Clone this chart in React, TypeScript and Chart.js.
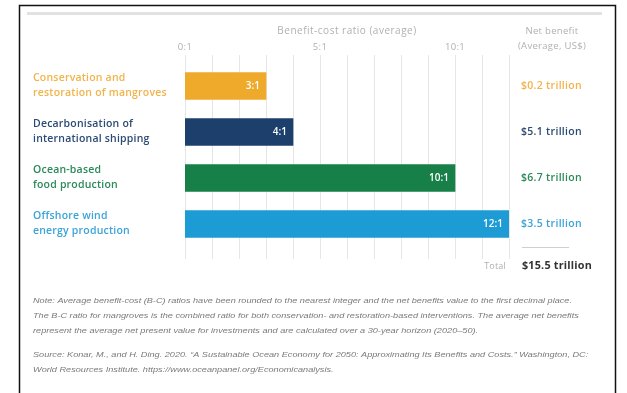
import React, { useEffect, useRef } from "react";
import { Chart, registerables } from "chart.js";

Chart.register(...registerables);

const categories: string[][] = [
  ["Conservation and", "restoration of mangroves"],
  ["Decarbonisation of", "international shipping"],
  ["Ocean-based", "food production"],
  ["Offshore wind", "energy production"],
];
const ratios = [3, 4, 10, 12];
const ratioLabels = ["3:1", "4:1", "10:1", "12:1"];
const netBenefits = ["$0.2 trillion", "$5.1 trillion", "$6.7 trillion", "$3.5 trillion"];
const totalText = "Total";
const totalValue = "$15.5 trillion";
const xTickValues = [0, 5, 10];
const xTickLabels = ["0:1", "5:1", "10:1"];
const axisTitle = "Benefit-cost ratio (average)";
const netHeader = ["Net benefit", "(Average, US$)"];
const barColors = ["#EFAA2C", "#1C3F6B", "#168048", "#1C9BD5"];
const textColors = ["#F1B44A", "#2B4A74", "#2A8A58", "#3AA3D8"];
const notes = [
  "Note: Average benefit-cost (B-C) ratios have been rounded to the nearest integer and the net benefits value to the first decimal place.",
  "The B-C ratio for mangroves is the combined ratio for both conservation- and restoration-based interventions. The average net benefits",
  "represent the average net present value for investments and are calculated over a 30-year horizon (2020\u201350).",
];
const sources = [
  "Source: Konar, M., and H. Ding. 2020. \u201cA Sustainable Ocean Economy for 2050: Approximating Its Benefits and Costs.\u201d Washington, DC:",
  "World Resources Institute. https://www.oceanpanel.org/Economicanalysis.",
];

const FONT = "'Open Sans', 'Noto Sans', sans-serif";

const decor = {
  id: "decor",
  beforeDatasetsDraw(chart: any) {
    const { ctx } = chart;
    const xs = chart.scales.x;
    ctx.save();
    ctx.strokeStyle = "#111";
    ctx.lineWidth = 1.5;
    ctx.beginPath();
    ctx.moveTo(19.5, 400);
    ctx.lineTo(19.5, 5.5);
    ctx.lineTo(615.5, 5.5);
    ctx.lineTo(615.5, 400);
    ctx.stroke();
    ctx.strokeStyle = "#e2e2e2";
    ctx.lineWidth = 3;
    ctx.beginPath();
    ctx.moveTo(27, 13.5);
    ctx.lineTo(602, 13.5);
    ctx.stroke();
    ctx.strokeStyle = "#e6e6e6";
    ctx.lineWidth = 1;
    for (let v = xs.min; v <= xs.max; v++) {
      const x = Math.round(xs.getPixelForValue(v)) + 0.5;
      ctx.beginPath();
      ctx.moveTo(x, 55);
      ctx.lineTo(x, 259);
      ctx.stroke();
    }
    ctx.restore();
  },
  afterDatasetsDraw(chart: any) {
    const { ctx } = chart;
    const xs = chart.scales.x;
    const ys = chart.scales.y;
    ctx.save();
    ctx.textBaseline = "middle";
    ctx.fillStyle = "#b0b0b0";
    ctx.font = `400 10px ${FONT}`;
    ctx.letterSpacing = "0.5px";
    ctx.textAlign = "center";
    ctx.fillText(axisTitle, (xs.left + xs.right) / 2, 31);
    ctx.letterSpacing = "0.3px";
    ctx.font = `400 9.5px ${FONT}`;
    xTickValues.forEach((v, i) => {
      ctx.fillText(xTickLabels[i], xs.getPixelForValue(v), 47);
    });
    ctx.fillText(netHeader[0], 552, 31);
    ctx.fillText(netHeader[1], 552, 46);
    categories.forEach((lines, i) => {
      const cy = ys.getPixelForValue(i);
      ctx.fillStyle = textColors[i];
      ctx.font = `600 10.5px ${FONT}`;
      ctx.letterSpacing = "0.2px";
      ctx.textAlign = "left";
      ctx.fillText(lines[0], 33, cy - 7.5);
      ctx.fillText(lines[1], 33, cy + 7.5);
      ctx.fillStyle = "#ffffff";
      ctx.font = `600 10px ${FONT}`;
      ctx.letterSpacing = "0px";
      ctx.textAlign = "right";
      ctx.fillText(ratioLabels[i], xs.getPixelForValue(ratios[i]) - 6, cy);
      ctx.fillStyle = textColors[i];
      ctx.font = `600 10.5px ${FONT}`;
      ctx.letterSpacing = "0.3px";
      ctx.textAlign = "left";
      ctx.fillText(netBenefits[i], 521, cy);
    });
    ctx.strokeStyle = "#cfcfcf";
    ctx.lineWidth = 1;
    ctx.beginPath();
    ctx.moveTo(522, 247.5);
    ctx.lineTo(569, 247.5);
    ctx.stroke();
    ctx.fillStyle = "#b0b0b0";
    ctx.font = `400 9px ${FONT}`;
    ctx.letterSpacing = "0.2px";
    ctx.textAlign = "right";
    ctx.fillText(totalText, 506, 266);
    ctx.fillStyle = "#333333";
    ctx.font = `700 10.8px ${FONT}`;
    ctx.letterSpacing = "0.2px";
    ctx.textAlign = "left";
    ctx.fillText(totalValue, 522, 266);
    ctx.letterSpacing = "0px";
    ctx.fillStyle = "#7a7a7a";
    ctx.font = `italic 400 8px 'Liberation Sans', sans-serif`;
    const w0 = ctx.measureText(notes[0]).width;
    const s = (572 - 33) / w0;
    const drawScaled = (t: string, y: number) => {
      ctx.save();
      ctx.translate(33, y);
      ctx.scale(s, 1);
      ctx.fillText(t, 0, 0);
      ctx.restore();
    };
    notes.forEach((t, i) => drawScaled(t, 301 + i * 15));
    sources.forEach((t, i) => drawScaled(t, 355 + i * 15));
    ctx.restore();
  },
};

export default function App() {
  const ref = useRef<HTMLCanvasElement | null>(null);
  useEffect(() => {
    if (!ref.current) return;
    const chart = new Chart(ref.current, {
      type: "bar",
      data: {
        labels: categories.map((c) => c.join(" ")),
        datasets: [
          {
            data: ratios,
            backgroundColor: barColors,
            borderWidth: 0,
            barThickness: 27,
          },
        ],
      },
      options: {
        indexAxis: "y",
        responsive: false,
        animation: false,
        devicePixelRatio: 1,
        layout: { padding: { left: 185, right: 118, top: 63, bottom: 146 } },
        plugins: { legend: { display: false }, tooltip: { enabled: false }, title: { display: false } },
        scales: {
          x: { type: "linear", min: 0, max: 12, display: false },
          y: { type: "category", display: false },
        },
      },
      plugins: [decor],
    });
    return () => chart.destroy();
  }, []);
  return (
    <div style={{ position: "absolute", left: 0, top: 0, width: 627, height: 393, background: "#fff" }}>
      <canvas ref={ref} width={627} height={393} style={{ display: "block" }} />
    </div>
  );
}
